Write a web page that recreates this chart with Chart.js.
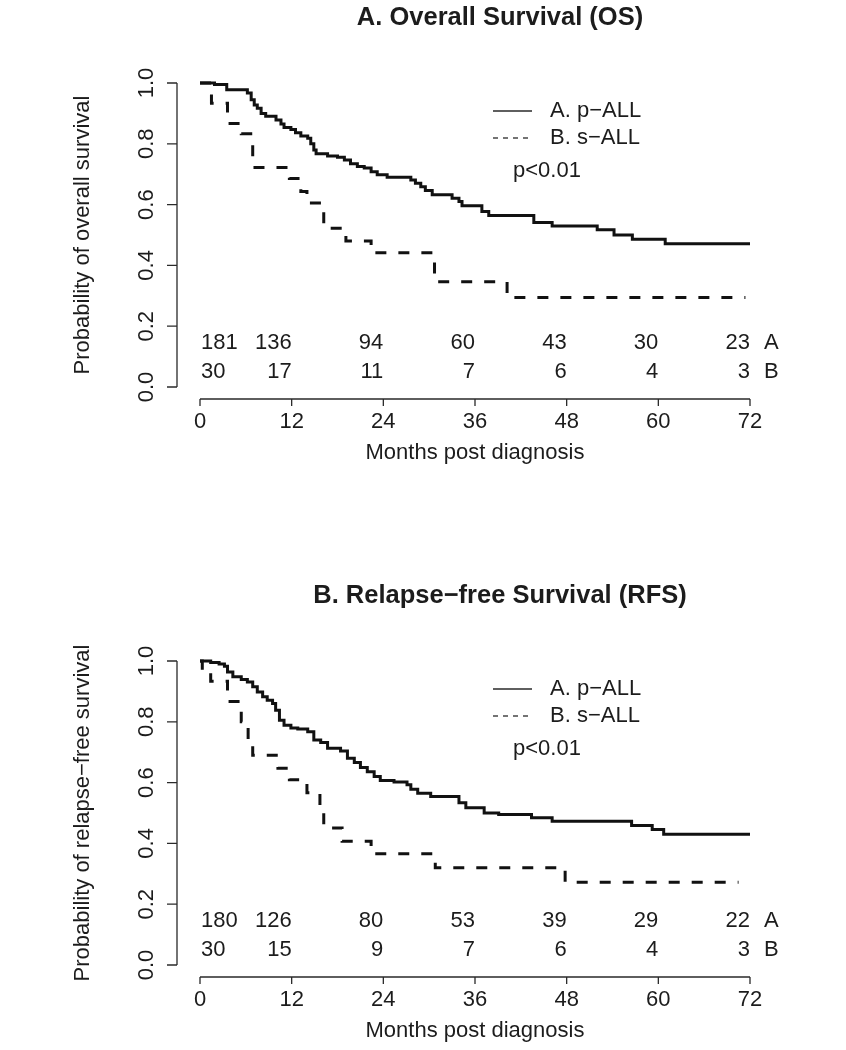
<!DOCTYPE html>
<html>
<head>
<meta charset="utf-8">
<script src="https://cdn.jsdelivr.net/npm/chart.js@4.4.1/dist/chart.umd.min.js"></script>
<style>
  body { margin: 0; background: #fff; }
  #wrap { position: relative; width: 846px; height: 1050px; overflow: hidden; }
  canvas { position: absolute; left: 0; }
</style>
</head>
<body>
<div id="wrap">
  <canvas id="osChart" width="846" height="472" style="top:0"></canvas>
  <canvas id="rfsChart" width="846" height="472" style="top:578px"></canvas>
</div>
<script>
// tick labels
const xTicks = [0, 12, 24, 36, 48, 60, 72];
const yTicks = [0, 0.2, 0.4, 0.6, 0.8, 1.0];

// overall survival, step points (month, probability)
const osMonthsA = [0, 1.9, 3.5, 6.2, 6.7, 7.1, 7.5, 8.0, 8.6, 9.95, 10.6, 11.0, 11.9, 12.5, 13.2, 14.1, 14.5, 14.9, 15.2, 16.7, 18.0, 18.9, 19.7, 20.6, 21.5, 22.4, 23.2, 24.5, 27.6, 28.2, 28.9, 29.5, 30.4, 33.0, 33.9, 34.3, 36.9, 37.8, 43.7, 46.1, 52.0, 54.2, 56.6, 60.9, 72];
const osSurvA   = [1, 0.995, 0.978, 0.967, 0.945, 0.928, 0.917, 0.900, 0.891, 0.878, 0.865, 0.854, 0.847, 0.836, 0.826, 0.818, 0.800, 0.780, 0.767, 0.760, 0.756, 0.747, 0.734, 0.725, 0.720, 0.708, 0.698, 0.690, 0.681, 0.670, 0.659, 0.646, 0.632, 0.621, 0.610, 0.596, 0.577, 0.564, 0.541, 0.530, 0.517, 0.500, 0.486, 0.471, 0.471];
const osMonthsB = [0, 1.5, 3.6, 5.4, 6.9, 11.7, 13.2, 14.0, 16.2, 19.1, 22.4, 30.7, 40.2, 71.4];
const osSurvB   = [1, 0.933, 0.867, 0.833, 0.722, 0.686, 0.643, 0.605, 0.522, 0.480, 0.442, 0.346, 0.294, 0.294];

// relapse-free survival
const rfsMonthsA = [0, 1.4, 2.5, 3.2, 3.6, 4.3, 5.4, 6.2, 6.9, 7.5, 8.2, 8.8, 9.5, 9.9, 10.4, 11.0, 11.9, 12.8, 14.1, 14.9, 15.8, 16.7, 18.4, 19.3, 20.2, 21.0, 21.9, 22.8, 23.6, 25.4, 27.1, 27.6, 28.5, 30.2, 33.9, 34.8, 37.2, 39.1, 43.4, 46.1, 56.5, 59.2, 60.7, 72];
const rfsSurvA   = [1, 0.995, 0.99, 0.983, 0.964, 0.948, 0.939, 0.931, 0.915, 0.898, 0.882, 0.871, 0.86, 0.838, 0.805, 0.789, 0.78, 0.776, 0.767, 0.74, 0.732, 0.713, 0.704, 0.68, 0.666, 0.65, 0.636, 0.62, 0.607, 0.602, 0.593, 0.578, 0.565, 0.554, 0.534, 0.517, 0.50, 0.495, 0.484, 0.473, 0.459, 0.446, 0.43, 0.43];
const rfsMonthsB = [0, 0.3, 1.4, 3.6, 5.4, 6.3, 6.9, 10.2, 11.7, 14.0, 15.7, 16.2, 18.6, 22.4, 30.8, 47.8, 70.5];
const rfsSurvB   = [1, 0.967, 0.933, 0.867, 0.80, 0.733, 0.69, 0.647, 0.609, 0.567, 0.50, 0.451, 0.407, 0.366, 0.32, 0.272, 0.272];

// numbers at risk
const riskTimes = [0, 12, 24, 36, 48, 60, 72];
const osRiskA  = [181, 136, 94, 60, 43, 30, 23];
const osRiskB  = [30, 17, 11, 7, 6, 4, 3];
const rfsRiskA = [180, 126, 80, 53, 39, 29, 22];
const rfsRiskB = [30, 15, 9, 7, 6, 4, 3];

const FONT = "'Liberation Sans', Arial, sans-serif";
const INK = '#1c1c1c';

function toPoints(xs, ys) {
  return xs.map((x, i) => ({ x: x, y: ys[i] }));
}

function makeChart(id, title, yTitle, monthsA, survA, monthsB, survB, riskA, riskB) {
  const decor = {
    id: 'decor',
    afterDraw(chart) {
      const ctx = chart.ctx;
      const xs = chart.scales.x, ys = chart.scales.y;
      const area = chart.chartArea;
      ctx.save();
      ctx.fillStyle = INK;
      ctx.strokeStyle = '#2a2a2a';
      ctx.lineWidth = 1.3;

      // title
      ctx.font = 'bold 25.5px ' + FONT;
      ctx.textAlign = 'center';
      ctx.textBaseline = 'middle';
      ctx.fillText(title, 500, 18);

      // y axis (R style, detached)
      const spineX = area.left - 23;
      ctx.beginPath();
      ctx.moveTo(spineX, ys.getPixelForValue(0));
      ctx.lineTo(spineX, ys.getPixelForValue(1));
      yTicks.forEach(v => {
        const py = ys.getPixelForValue(v);
        ctx.moveTo(spineX, py);
        ctx.lineTo(spineX - 10, py);
      });
      ctx.stroke();
      ctx.font = '22px ' + FONT;
      yTicks.forEach(v => {
        const py = ys.getPixelForValue(v);
        ctx.save();
        ctx.translate(spineX - 30, py);
        ctx.rotate(-Math.PI / 2);
        ctx.fillText(v.toFixed(1), 0, 0);
        ctx.restore();
      });

      // x axis
      const axisY = area.bottom + 12;
      ctx.beginPath();
      ctx.moveTo(xs.getPixelForValue(xTicks[0]), axisY);
      ctx.lineTo(xs.getPixelForValue(xTicks[xTicks.length - 1]), axisY);
      xTicks.forEach(v => {
        const px = xs.getPixelForValue(v);
        ctx.moveTo(px, axisY);
        ctx.lineTo(px, axisY + 7);
      });
      ctx.stroke();
      xTicks.forEach(v => {
        ctx.fillText(String(v), xs.getPixelForValue(v), axisY + 23);
      });
      ctx.fillText('Months post diagnosis', (area.left + area.right) / 2, axisY + 54);

      // y title
      ctx.save();
      ctx.translate(83, (area.top + area.bottom) / 2);
      ctx.rotate(-Math.PI / 2);
      ctx.fillText(yTitle, 0, 0);
      ctx.restore();

      // numbers at risk
      const rowA = ys.getPixelForValue(0.146), rowB = ys.getPixelForValue(0.048);
      riskTimes.forEach((t, i) => {
        const px = xs.getPixelForValue(t);
        ctx.textAlign = i === 0 ? 'left' : 'right';
        const dx = i === 0 ? 1 : 0;
        ctx.fillText(String(riskA[i]), px + dx, rowA);
        ctx.fillText(String(riskB[i]), px + dx, rowB);
      });
      ctx.textAlign = 'left';
      const lblX = xs.getPixelForValue(72) + 14;
      ctx.fillText('A', lblX, rowA);
      ctx.fillText('B', lblX, rowB);

      // legend
      const lx = area.left + 293;
      ctx.beginPath();
      ctx.moveTo(lx, area.top + 28);
      ctx.lineTo(lx + 39, area.top + 28);
      ctx.stroke();
      ctx.setLineDash([5, 5]);
      ctx.beginPath();
      ctx.moveTo(lx, area.top + 55);
      ctx.lineTo(lx + 39, area.top + 55);
      ctx.stroke();
      ctx.setLineDash([]);
      ctx.fillText('A. p\u2212ALL', lx + 57, area.top + 28);
      ctx.fillText('B. s\u2212ALL', lx + 57, area.top + 55);
      ctx.fillText('p<0.01', lx + 20, area.top + 88);
      ctx.restore();
    }
  };

  return new Chart(document.getElementById(id), {
    type: 'line',
    data: {
      datasets: [{
        label: 'A. p-ALL',
        data: toPoints(monthsA, survA),
        stepped: 'before',
        borderColor: '#111',
        borderWidth: 3,
        pointRadius: 0,
        fill: false,
        clip: false
      }, {
        label: 'B. s-ALL',
        data: toPoints(monthsB, survB),
        stepped: 'before',
        borderColor: '#111',
        borderWidth: 3,
        borderDash: [11, 12],
        pointRadius: 0,
        fill: false,
        clip: false
      }]
    },
    options: {
      responsive: false,
      animation: false,
      events: [],
      layout: { padding: { left: 200, right: 96, top: 83, bottom: 85 } },
      plugins: { legend: { display: false }, title: { display: false }, tooltip: { enabled: false } },
      scales: {
        x: { type: 'linear', min: 0, max: 72, display: false },
        y: { type: 'linear', min: 0, max: 1, display: false }
      }
    },
    plugins: [decor]
  });
}

makeChart('osChart', 'A. Overall Survival (OS)', 'Probability of overall survival',
  osMonthsA, osSurvA, osMonthsB, osSurvB, osRiskA, osRiskB);
makeChart('rfsChart', 'B. Relapse\u2212free Survival (RFS)', 'Probability of relapse\u2212free survival',
  rfsMonthsA, rfsSurvA, rfsMonthsB, rfsSurvB, rfsRiskA, rfsRiskB);
</script>
</body>
</html>
